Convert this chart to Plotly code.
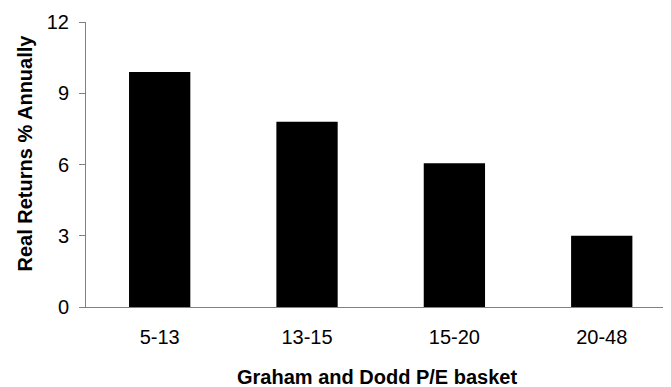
import plotly.graph_objects as go

categories = ["5-13", "13-15", "15-20", "20-48"]
real_returns = [9.9, 7.8, 6.05, 3.0]
y_ticks = [0, 3, 6, 9, 12]

FONT = "Arial, 'Liberation Sans', sans-serif"

fig = go.Figure(
    go.Bar(
        x=categories,
        y=real_returns,
        marker=dict(color="black", line=dict(width=0)),
    )
)

# page body adds an 8px margin, so the figure is 8px smaller and margins shifted
fig.update_layout(
    width=663,
    height=379,
    margin=dict(l=78, r=0, t=14, b=80),
    paper_bgcolor="white",
    plot_bgcolor="white",
    bargap=0.584,
    showlegend=False,
    font=dict(family=FONT, size=20, color="black"),
)

fig.update_xaxes(
    type="category",
    range=[-0.5, 3.47],
    showline=True,
    linecolor="#808080",
    linewidth=1,
    ticks="",
    showgrid=False,
    zeroline=False,
    ticklabelstandoff=12,
    tickfont=dict(family=FONT, size=20, color="black"),
)

fig.update_yaxes(
    range=[0, 12],
    tickvals=y_ticks,
    showline=True,
    linecolor="#808080",
    linewidth=1,
    ticks="outside",
    ticklen=6,
    tickcolor="#808080",
    showgrid=False,
    zeroline=False,
    ticklabelstandoff=6,
    tickfont=dict(family=FONT, size=20, color="black"),
)

fig.add_annotation(
    text="<b>Real Returns % Annually</b>",
    xref="paper", yref="paper",
    x=-0.104, y=0.539,
    xanchor="center", yanchor="middle",
    textangle=-90,
    showarrow=False,
    font=dict(family=FONT, size=20, color="black"),
)

fig.add_annotation(
    text="<b>Graham and Dodd P/E basket</b>",
    xref="paper", yref="paper",
    x=(376.5 - 86) / 585, y=-(376.5 - 307) / 285,
    xanchor="center", yanchor="middle",
    showarrow=False,
    font=dict(family=FONT, size=20, color="black"),
)

fig.write_html("out.html")
